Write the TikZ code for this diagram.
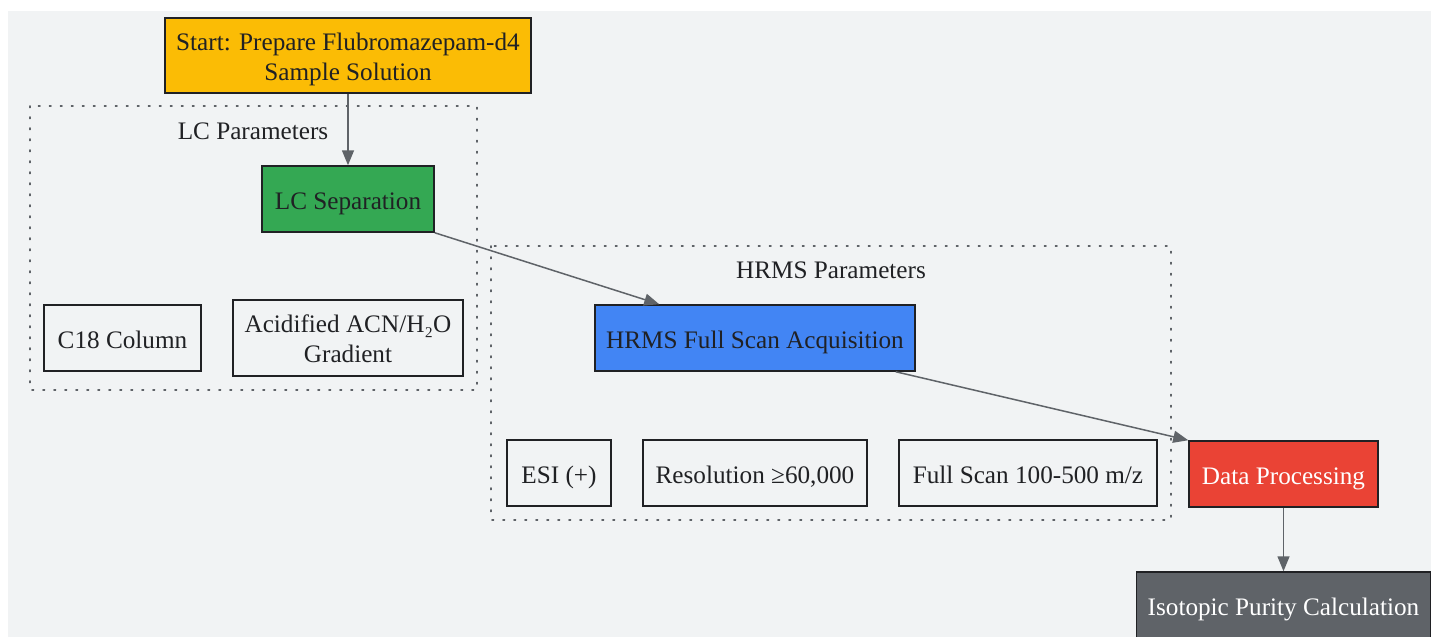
\documentclass[tikz,border=0pt]{standalone}
\usepackage{fontspec}
\setmainfont{Liberation Serif}
\usetikzlibrary{calc,arrows.meta}
\definecolor{bgcol}{HTML}{F1F3F4}
\definecolor{ink}{HTML}{202124}
\definecolor{edgecol}{HTML}{5F6368}
\definecolor{startcol}{HTML}{FBBC05}
\definecolor{lccol}{HTML}{34A853}
\definecolor{mscol}{HTML}{4285F4}
\definecolor{datacol}{HTML}{EA4335}
\definecolor{endcol}{HTML}{5F6368}

\begin{document}
\begin{tikzpicture}[x=0.5pt,y=-0.5pt,
	box/.style={draw=ink,line width=0.75pt,minimum height=33pt,inner sep=0pt,align=center,text=ink,
		text height=10pt,text depth=0pt,font=\fontsize{12.6}{15}\selectfont},
	twoline/.style={text height=24.5pt,text depth=0pt},
	lbl/.style={inner sep=0pt,text=ink,font=\fontsize{12.6}{15}\selectfont},
	cluster/.style={draw=edgecol,line width=0.8pt,dash pattern=on 0.8pt off 4.7pt,line cap=round},
	flow/.style={draw=edgecol,line width=0.75pt,-{Triangle[length=7.5pt,width=6pt]}}]
		\useasboundingbox (0,0) rectangle (1431,637);
		\fill[bgcol] (8,11) rectangle (1431,637); %背景
		\draw[cluster] (30,106) rectangle (477,390); %LC
		\draw[cluster] (491,246) rectangle (1171,520); %HRMS
		\node[lbl] (lctitle) at (253,131) {LC Parameters};
		\node[lbl] (mstitle) at (831,270) {HRMS Parameters};
		\node[box,twoline,fill=startcol,minimum width=183pt,minimum height=37.5pt] (start) at (348,55.5) {Start: Prepare Flubromazepam-d4\\Sample Solution};
		\node[box,fill=lccol,minimum width=86pt] (lcsep) at (348,199) {LC Separation};
		\node[box,minimum width=78.5pt] (column) at (122.5,338) {C18 Column};
		\node[box,twoline,minimum width=115pt,minimum height=38pt] (gradient) at (348,338) {Acidified ACN/H₂O\\Gradient};
		\node[box,fill=mscol,minimum width=160pt] (hrms) at (755,338) {HRMS Full Scan Acquisition};
		\node[box,minimum width=52pt] (esi) at (559,473) {ESI (+)};
		\node[box,minimum width=112pt] (resol) at (755,473) {Resolution ≥60,000};
		\node[box,minimum width=129pt] (range) at (1028,473) {Full Scan 100-500 m/z};
		\node[box,fill=datacol,text=white,minimum width=94.5pt] (data) at (1283.5,474) {Data Processing};
		\node[box,fill=endcol,text=white,minimum width=147pt] (purity) at (1283.5,605) {Isotopic Purity Calculation};
		\draw[flow] (start) -- (lcsep);
		\draw[flow] (lcsep.south east) -- ($(hrms.north west)+(65,0)$);
		\draw[flow] ($(hrms.south east)+(-20,0)$) -- (data.north west);
		\draw[flow] (data) -- (purity);
	\end{tikzpicture}
\end{document}
